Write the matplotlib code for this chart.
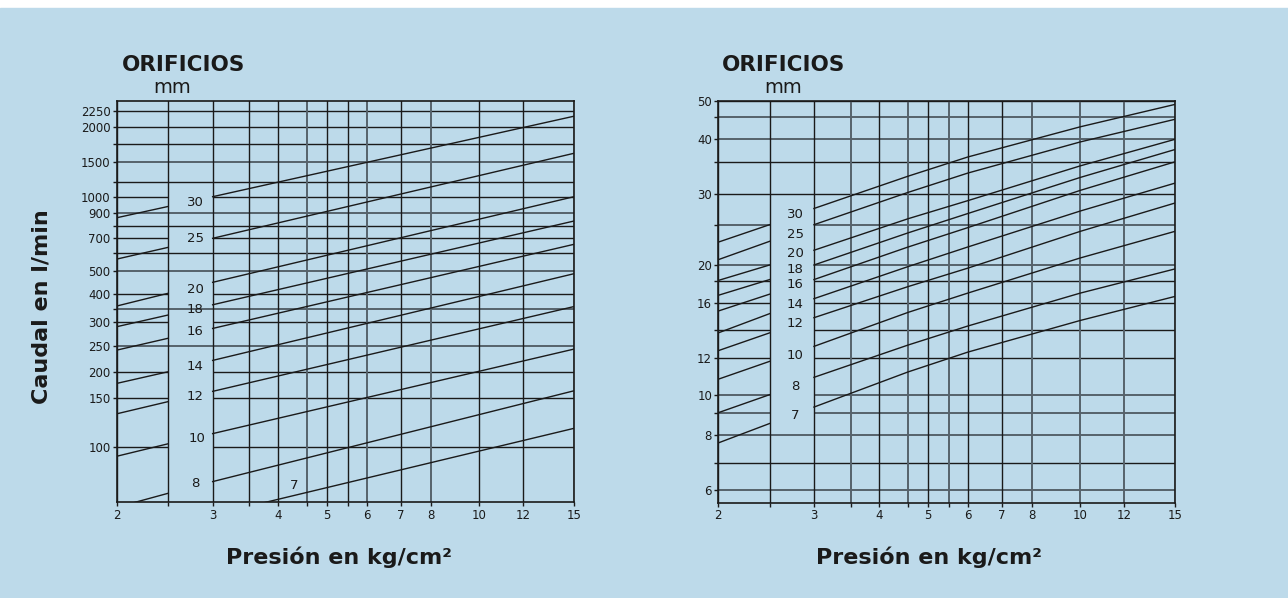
import numpy as np
import matplotlib.pyplot as plt
from matplotlib.patches import Rectangle
from matplotlib.ticker import NullFormatter

# ------------------------------------------
# DATOS
# ------------------------------------------
orificios = ['30', '25', '20', '18', '16', '14', '12', '10', '8', '7']

presion_major = [2, 3, 4, 5, 6, 7, 8, 10, 12, 15]
presion_minor = [2.5, 3.5, 4.5, 5.5]

# grafico izquierdo: caudal en l/min
caudal1_major = [100, 150, 200, 250, 300, 400, 500, 700, 900, 1000, 1500, 2000, 2250]
caudal1_minor = [350, 600, 800, 1250, 1750]

p1_izq = [2, 2.5]
p1_der = [3, 15]
caudal1_izq = [[861, 938], [565, 638], [359, 404], [290, 326], [241, 265],
               [177, 201], [132, 146], [92, 103], [57, 65], [np.nan, np.nan]]
caudal1_der = [[1000, 2170], [700, 1616], [448, 1000], [363, 836], [286, 658],
               [221, 486], [162, 357], [112, 243], [72.5, 163], [53, 117]]

# grafico derecho
caudal2_major = [6, 8, 10, 12, 16, 20, 30, 40, 50]
caudal2_minor = [7, 9, 14, 18, 25, 35, 45]

p2_izq = [2, 2.5]
p2_der = [3, 4.5, 6, 10, 15]
caudal2_izq = [[22.7, 25.0], [20.6, 22.8], [18.1, 20.0], [16.7, 18.2], [15.4, 16.8],
               [13.8, 15.2], [12.5, 13.8], [10.8, 11.8], [9.0, 10.0], [7.7, 8.5]]
caudal2_der = [[27.5, 32.7, 36.1, 42.7, 48.8],
               [25.0, 30.2, 33.2, 39.4, 44.4],
               [21.7, 25.9, 28.8, 34.4, 40.0],
               [20.0, 23.9, 26.7, 32.5, 37.7],
               [18.2, 22.1, 24.6, 30.5, 35.1],
               [16.4, 19.8, 22.1, 27.1, 31.6],
               [14.9, 17.5, 19.6, 24.1, 28.4],
               [12.8, 15.3, 16.9, 20.8, 24.1],
               [10.9, 12.9, 14.3, 16.9, 19.5],
               [9.3, 11.2, 12.4, 14.7, 16.6]]

# ------------------------------------------
# ESCALAS: el abaco original no es log exacto,
# se reproduce el espaciado de su rejilla (pixeles del original)
# ------------------------------------------
esc_x_val = [2, 2.5, 3, 3.5, 4, 4.5, 5, 5.5, 6, 7, 8, 10, 12, 15]
esc_x_pix = [117, 168.3, 212.7, 249.3, 277.7, 307, 326.7, 348.3, 366.7,
             400.7, 431, 479.3, 523.3, 574]

esc1_val = [59.7, 100, 150, 200, 250, 300, 350, 400, 500, 600, 700, 800, 900,
            1000, 1250, 1500, 1750, 2000, 2250, 2430]
esc1_pix = [502.3, 447.3, 398.3, 372.3, 345.7, 322.3, 308.7, 294.3, 270.7, 253.3,
            238.3, 226, 212.7, 196.7, 181.7, 161.7, 144.3, 127.3, 111.3, 100.7]

esc2_val = [5.59, 6, 7, 8, 9, 10, 12, 14, 16, 18, 20, 25, 30, 35, 40, 45, 50]
esc2_pix = [502.7, 490, 462.7, 435, 412.7, 394.7, 358, 330.3, 303.3, 281.3, 265,
            224.7, 193.7, 162.3, 139.3, 116.7, 100.7]


def escala_tramos(valores, pix, creciente=True):
    lv = np.log10(valores)
    fr = np.asarray(pix, float)
    fr = (fr - fr[0]) / (fr[-1] - fr[0])
    m0 = (fr[1] - fr[0]) / (lv[1] - lv[0])
    m1 = (fr[-1] - fr[-2]) / (lv[-1] - lv[-2])

    def fwd(v):
        with np.errstate(divide='ignore', invalid='ignore'):
            l = np.log10(np.asarray(v, float))
            out = np.interp(l, lv, fr)
            out = np.where(l < lv[0], fr[0] + (l - lv[0]) * m0, out)
            out = np.where(l > lv[-1], fr[-1] + (l - lv[-1]) * m1, out)
        return out

    def inv(f):
        f = np.asarray(f, float)
        l = np.interp(f, fr, lv)
        l = np.where(f < fr[0], lv[0] + (f - fr[0]) / m0, l)
        l = np.where(f > fr[-1], lv[-1] + (f - fr[-1]) / m1, l)
        return 10 ** l

    return fwd, inv


# ------------------------------------------
# ESTILO
# ------------------------------------------
FONDO = '#bddaea'
NEGRO = '#1a1a1a'
GRIS = '#56626b'

# lineas cortadas por la columna de etiquetas (entre 2.5 y 3)
corte1 = [100, 150, 200, 300, 400, 700, 1000]
corte2 = [9, 10, 12, 14, 16, 18, 20, 25]
gris1_h = [250, 350, 500, 900, 1500]
gris1_v = [4.5, 6, 8]
gris2_h = [6, 8, 9, 10, 20, 25, 40, 45]
gris2_v = [3.5, 4.5, 5.5, 8, 10, 12]

# posicion de las etiquetas (fraccion de ejes)
etiq1_x = [0.171, 0.171, 0.171, 0.171, 0.171, 0.171, 0.171, 0.176, 0.171, 0.388]
etiq1_y = [0.747, 0.656, 0.530, 0.479, 0.425, 0.339, 0.263, 0.160, 0.047, 0.041]
etiq2_x = [0.168] * 10
etiq2_y = [0.718, 0.668, 0.619, 0.581, 0.542, 0.494, 0.446, 0.365, 0.289, 0.218]


def panel(ax, esc_y, ylim, ymaj, ymin, corte, gris_h, gris_v,
          izq, der, p_izq, p_der, ex, ey):
    ax.set_xscale('function', functions=escala_tramos(esc_x_val, esc_x_pix))
    ax.set_yscale('function', functions=escala_tramos(*esc_y))
    ax.set_xlim(2, 15)
    ax.set_ylim(*ylim)
    ax.set_facecolor('none')

    # cuadricula horizontal
    for v in ymaj + ymin:
        c, lw = (GRIS, 1.4) if v in gris_h else (NEGRO, 1.0)
        if v in corte:
            ax.hlines(v, 2, 2.5, color=c, lw=lw, zorder=1)
            ax.hlines(v, 3, 15, color=c, lw=lw, zorder=1)
        else:
            ax.hlines(v, 2, 15, color=c, lw=lw, zorder=1)
    # cuadricula vertical
    for p in presion_major + presion_minor:
        c, lw = (GRIS, 1.4) if p in gris_v else (NEGRO, 1.0)
        ax.axvline(p, color=c, lw=lw, zorder=1)

    # curvas de cada orificio
    for i in range(len(orificios)):
        ax.plot(p_izq, izq[i], color=NEGRO, lw=1.0, zorder=2)
        ax.plot(p_der, der[i], color=NEGRO, lw=1.0, zorder=2)
        ax.text(ex[i], ey[i], orificios[i], transform=ax.transAxes,
                ha='center', va='center', fontsize=9.5, color=NEGRO)

    ax.set_xticks(presion_major, [str(p) for p in presion_major])
    ax.set_xticks(presion_minor, minor=True)
    ax.set_yticks(ymaj, [str(v) for v in ymaj])
    ax.set_yticks(ymin, minor=True)
    ax.xaxis.set_minor_formatter(NullFormatter())
    ax.yaxis.set_minor_formatter(NullFormatter())
    ax.tick_params(which='both', direction='out', length=3, width=1.0,
                   color=NEGRO, labelsize=8.5, labelcolor=NEGRO, pad=1.5)
    for s in ax.spines.values():
        s.set_color(NEGRO)
        s.set_linewidth(1.2)


fig = plt.figure(figsize=(12.88, 5.98), dpi=100, facecolor='white')
fig.patches.append(Rectangle((0, 0), 1, 590 / 598, transform=fig.transFigure,
                             color=FONDO, zorder=-10))

ax1 = fig.add_axes([0.0908, 0.160, 0.3548, 0.6716])
ax2 = fig.add_axes([0.5577, 0.1594, 0.3546, 0.6722])

panel(ax1, (esc1_val, esc1_pix), (59.7, 2430), caudal1_major, caudal1_minor,
      corte1, gris1_h, gris1_v, caudal1_izq, caudal1_der, p1_izq, p1_der,
      etiq1_x, etiq1_y)
panel(ax2, (esc2_val, esc2_pix), (5.59, 50), caudal2_major, caudal2_minor,
      corte2, gris2_h, gris2_v, caudal2_izq, caudal2_der, p2_izq, p2_der,
      etiq2_x, etiq2_y)

# textos
for x0, xm in [(0.0945, 0.1339), (0.5603, 0.6082)]:
    fig.text(x0, 0.881, 'ORIFICIOS', fontsize=15.5, fontweight='bold',
             color=NEGRO, va='baseline')
    fig.text(xm, 0.844, 'mm', fontsize=14, color=NEGRO, ha='center', va='baseline')

for xc in [0.2632, 0.7213]:
    fig.text(xc, 0.057, 'Presión en kg/cm²', fontsize=16, fontweight='bold',
             color=NEGRO, ha='center', va='baseline')

fig.text(0.0326, 0.488, 'Caudal en l/min', fontsize=16, fontweight='bold',
         color=NEGRO, rotation=90, ha='center', va='center')

fig.savefig('out.png', dpi=100, facecolor=fig.get_facecolor())
